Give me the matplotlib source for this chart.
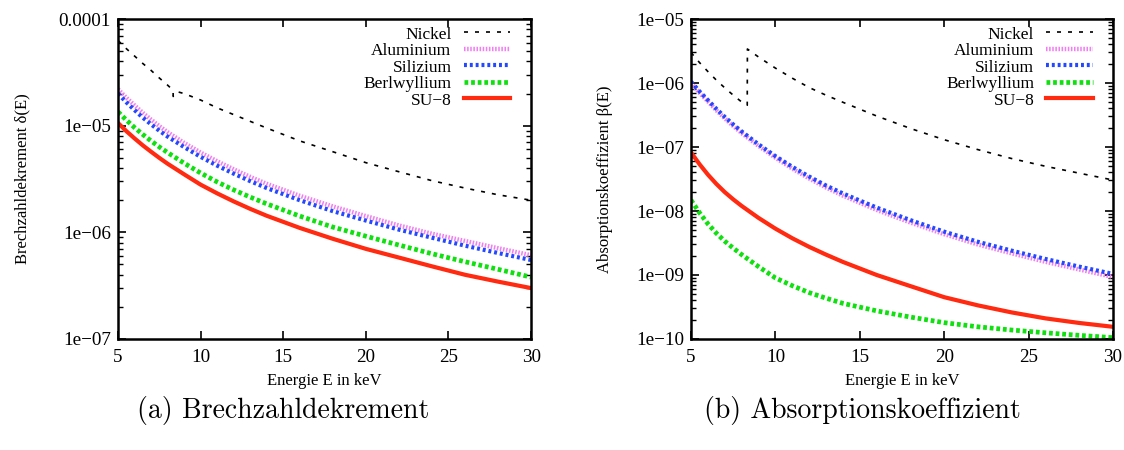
import matplotlib
matplotlib.use("Agg")
import matplotlib.pyplot as plt
from matplotlib.ticker import FixedLocator, NullFormatter, LogLocator

# ---------------- data ----------------
energy = [5, 5.5, 6, 6.5, 7, 7.5, 8, 9, 10, 11, 12, 13, 14, 16, 18, 20, 22, 24, 26, 28, 30]

# Refractive index decrement delta(E)
ni_energy_delta = [5, 5.5, 6, 6.5, 7, 7.5, 8, 8.33, 8.34, 8.6, 9, 10, 11, 12, 14, 16, 18, 20, 22, 24, 26, 28, 30]
ni_delta = [6.3e-5, 5.28e-5, 4.5e-5, 3.83e-5, 3.3e-5, 2.8e-5, 2.4e-5, 2.15e-5, 1.88e-5, 2.08e-5, 2.0e-5,
            1.74e-5, 1.47e-5, 1.27e-5, 9.5e-6, 7.2e-6, 5.7e-6, 4.5e-6, 3.7e-6, 3.05e-6, 2.6e-6, 2.25e-6, 2.0e-6]
al_delta = [2.2e-5, 1.83e-5, 1.55e-5, 1.32e-5, 1.14e-5, 9.9e-6, 8.7e-6, 6.9e-6, 5.6e-6, 4.64e-6, 3.9e-6,
            3.31e-6, 2.85e-6, 2.2e-6, 1.75e-6, 1.42e-6, 1.16e-6, 9.7e-7, 8.3e-7, 7.1e-7, 6.1e-7]
si_delta = [2.0e-5, 1.66e-5, 1.4e-5, 1.19e-5, 1.03e-5, 8.97e-6, 7.9e-6, 6.3e-6, 5.1e-6, 4.22e-6, 3.55e-6,
            3.02e-6, 2.6e-6, 2.0e-6, 1.58e-6, 1.29e-6, 1.06e-6, 8.9e-7, 7.5e-7, 6.4e-7, 5.5e-7]
be_delta = [1.35e-5, 1.13e-5, 9.6e-6, 8.27e-6, 7.2e-6, 6.32e-6, 5.6e-6, 4.45e-6, 3.6e-6, 2.97e-6, 2.5e-6,
            2.14e-6, 1.85e-6, 1.42e-6, 1.12e-6, 9.2e-7, 7.6e-7, 6.3e-7, 5.3e-7, 4.5e-7, 3.8e-7]
su8_delta = [1.06e-5, 8.9e-6, 7.6e-6, 6.54e-6, 5.7e-6, 4.99e-6, 4.4e-6, 3.5e-6, 2.8e-6, 2.32e-6, 1.95e-6,
             1.66e-6, 1.43e-6, 1.1e-6, 8.7e-7, 7.0e-7, 5.8e-7, 4.8e-7, 4.0e-7, 3.45e-7, 3.0e-7]

# Absorption coefficient beta(E)
ni_energy_beta = [5, 5.5, 6, 6.5, 7, 7.5, 8, 8.33, 8.34, 9, 10, 11, 12, 13, 14, 16, 18, 20, 22, 24, 26, 28, 30]
ni_beta = [3.0e-6, 2.09e-6, 1.51e-6, 1.11e-6, 8.4e-7, 6.46e-7, 5.05e-7, 4.5e-7, 3.4e-6, 2.55e-6, 1.71e-6,
           1.19e-6, 8.5e-7, 6.45e-7, 5.0e-7, 3.05e-7, 1.95e-7, 1.3e-7, 9.1e-8, 6.6e-8, 5.0e-8, 3.9e-8, 3.05e-8]
al_beta = [1.0e-6, 7.05e-7, 5.15e-7, 3.75e-7, 2.8e-7, 2.13e-7, 1.65e-7, 1.04e-7, 6.8e-8, 4.6e-8, 3.22e-8,
           2.33e-8, 1.74e-8, 1.04e-8, 6.6e-9, 4.35e-9, 3.0e-9, 2.18e-9, 1.61e-9, 1.22e-9, 9.3e-10]
si_beta = [1.05e-6, 7.4e-7, 5.4e-7, 3.95e-7, 2.95e-7, 2.25e-7, 1.75e-7, 1.1e-7, 7.2e-8, 4.9e-8, 3.45e-8,
           2.5e-8, 1.88e-8, 1.13e-8, 7.2e-9, 4.75e-9, 3.3e-9, 2.4e-9, 1.78e-9, 1.35e-9, 1.04e-9]
be_beta = [1.48e-8, 9.4e-9, 6.3e-9, 4.5e-9, 3.37e-9, 2.63e-9, 2.08e-9, 1.35e-9, 9.0e-10, 6.8e-10, 5.3e-10,
           4.34e-10, 3.6e-10, 2.75e-10, 2.2e-10, 1.8e-10, 1.55e-10, 1.38e-10, 1.25e-10, 1.14e-10, 1.05e-10]
su8_beta = [8.2e-8, 5.4e-8, 3.7e-8, 2.65e-8, 1.97e-8, 1.52e-8, 1.2e-8, 7.8e-9, 5.3e-9, 3.75e-9, 2.75e-9,
            2.08e-9, 1.6e-9, 1.0e-9, 6.7e-10, 4.5e-10, 3.35e-10, 2.6e-10, 2.1e-10, 1.78e-10, 1.55e-10]

series_names = ["Nickel", "Aluminium", "Silizium", "Berlwyllium", "SU\u22128"]
x_ticks = [5, 10, 15, 20, 25, 30]
left_yticks = [1e-4, 1e-5, 1e-6, 1e-7]
left_ylabels = ["0.0001", "1e\u221205", "1e\u221206", "1e\u221207"]
right_yticks = [1e-5, 1e-6, 1e-7, 1e-8, 1e-9, 1e-10]
right_ylabels = ["1e\u221205", "1e\u221206", "1e\u221207", "1e\u221208", "1e\u221209", "1e\u221210"]

# ---------------- style ----------------
serif = ["Liberation Serif", "DejaVu Serif"]
tick_fs = 13.8
styles = {
    "Nickel": dict(color="black", lw=1.2, ls=(0, (2.4, 4.2))),
    "Aluminium": dict(color="#f080f0", lw=3.2, ls=(0, (0.35, 0.35))),
    "Silizium": dict(color="#2448ff", lw=3.0, ls=(0, (0.7, 0.7))),
    "Berlwyllium": dict(color="#10e010", lw=3.4, ls=(0, (0.8, 0.6))),
    "SU\u22128": dict(color="#ff2a10", lw=3.0, ls="-"),
}

fig = plt.figure(figsize=(11.24, 4.5), dpi=100)
ax1 = fig.add_axes([0.105, 0.2467, 0.3675, 0.711])
ax2 = fig.add_axes([0.6148, 0.2467, 0.3754, 0.711])


def draw(ax, ni_e, ni_v, al, si, be, su8, yticks, ylabels, ylim, ylabel, ylabel_x, legx):
    data = [(ni_e, ni_v), (energy, al), (energy, si), (energy, be), (energy, su8)]
    for name, (xs, ys) in zip(series_names, data):
        ax.plot(xs, ys, label=name, **styles[name])
    ax.set_yscale("log")
    ax.set_xlim(5, 30)
    ax.set_ylim(*ylim)
    ax.xaxis.set_major_locator(FixedLocator(x_ticks))
    ax.set_xticklabels([str(t) for t in x_ticks], family=serif, fontsize=tick_fs)
    ax.yaxis.set_major_locator(FixedLocator(yticks))
    ax.yaxis.set_minor_locator(LogLocator(base=10, subs=range(2, 10), numticks=20))
    ax.yaxis.set_minor_formatter(NullFormatter())
    ax.set_yticklabels(ylabels, family=serif, fontsize=tick_fs)
    ax.tick_params(which="major", direction="in", length=6, width=1.2, top=True, right=True, pad=5)
    ax.tick_params(which="minor", direction="in", length=3.5, width=1.0, top=False, right=True)
    ax.tick_params(axis="x", pad=7)
    for sp in ax.spines.values():
        sp.set_linewidth(1.8)
    ax.set_xlabel("Energie E in keV", family=serif, fontsize=12, labelpad=5)
    ax.set_ylabel(ylabel, family=serif, fontsize=12)
    ax.yaxis.set_label_coords(ylabel_x, 0.5)
    leg = ax.legend(loc="upper right", bbox_to_anchor=(legx, 0.977), frameon=False,
                    markerfirst=False, prop={"family": serif, "size": 12.5},
                    handlelength=2.7, handletextpad=0.7, labelspacing=0.02, borderpad=0,
                    borderaxespad=0)
    for t in leg.get_texts():
        t.set_ha("right")


draw(ax1, ni_energy_delta, ni_delta, al_delta, si_delta, be_delta, su8_delta,
     left_yticks, left_ylabels, (1e-7, 1e-4), "Brechzahldekrement \u03b4(E)", -0.211, 0.95)
draw(ax2, ni_energy_beta, ni_beta, al_beta, si_beta, be_beta, su8_beta,
     right_yticks, right_ylabels, (1e-10, 1e-5), "Absorptionskoeffizient \u03b2(E)", -0.185, 0.953)

cap_font = ["cmr10", "DejaVu Serif"]
fig.text(0.252, 0.087, "(a) Brechzahldekrement", ha="center", va="center",
         family=cap_font, fontsize=20)
fig.text(0.767, 0.087, "(b) Absorptionskoeffizient", ha="center", va="center",
         family=cap_font, fontsize=20)

fig.savefig("out.png", dpi=100)
